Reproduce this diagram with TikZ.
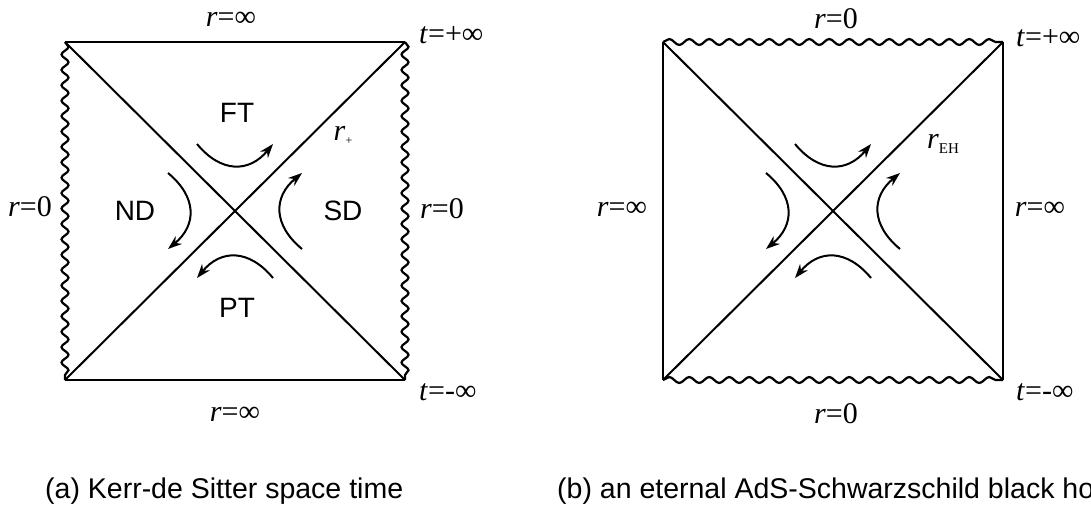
\documentclass[tikz,border=0pt]{standalone}
\usepackage{fontspec}
\setmainfont{Liberation Sans}
\newfontfamily\tms{Liberation Serif}
\usetikzlibrary{decorations.pathmorphing,arrows.meta}
\tikzset{
  edge/.style={line width=2.5pt},
  diag/.style={line width=2pt},
  wavyA/.style={line width=2.2pt, decorate, decoration={snake, segment length=15.4pt, amplitude=3.5pt}},
  wavyB/.style={line width=2.2pt, decorate, decoration={snake, segment length=20pt, amplitude=3pt}},
  flow/.style={line width=2pt, -{Stealth[length=14pt, width=10pt]}},
  lab/.style={font=\tms\fontsize{30}{32}\selectfont, inner sep=0pt},
  reg/.style={font=\fontsize{28}{30}\selectfont, inner sep=0pt},
  captext/.style={font=\fontsize{28.5}{32}\selectfont, inner sep=0pt},
}
\newcommand{\flows}{%
  \draw[flow] (-38,-67) .. controls (-14,-38) and (14,-38) .. (38,-67);
  \draw[flow] (67,38) .. controls (38,14) and (38,-14) .. (67,-38);
  \draw[flow] (38,67) .. controls (14,38) and (-14,38) .. (-38,67);
  \draw[flow] (-67,-38) .. controls (-38,-14) and (-38,14) .. (-67,38);
}
\begin{document}
\begin{tikzpicture}[x=1pt,y=-1pt]
\useasboundingbox (0,0) rectangle (1091,508);
% ---------- (a) ----------
\coordinate (aTL) at (65,42);
\coordinate (aTR) at (405,42);
\coordinate (aBL) at (65,380);
\coordinate (aBR) at (405,380);
\draw[edge] (aTL) -- (aTR);
\draw[edge] (aBL) -- (aBR);
\draw[wavyA] (aTL) -- (aBL);
\draw[wavyA] (aTR) -- (aBR);
\draw[diag] (aTL) -- (aBR);
\draw[diag] (aTR) -- (aBL);
\begin{scope}[shift={(235,211)}]
\flows
\end{scope}
\node[lab] (aTop) at (231,19) {\textit{r}=∞};
\node[lab] (aBot) at (235,414) {\textit{r}=∞};
\node[lab] (aLeft) at (30,207) {\textit{r}=0};
\node[lab] (aRight) at (442,209) {\textit{r}=0};
\node[lab, anchor=west] (aTp) at (419,35) {\textit{t}=+∞};
\node[lab, anchor=west] (aTm) at (419,392) {\textit{t}=-∞};
\node[lab] (aRp) at (343,135) {\textit{r}\raisebox{-0.3ex}{\fontsize{12}{12}\selectfont+}};
\node[reg] (FT) at (237,113) {FT};
\node[reg] (ND) at (135,211) {ND};
\node[reg] (SD) at (343,211) {SD};
\node[reg] (PT) at (237,308) {PT};
\node[captext, anchor=base west] (capA) at (45,498) {(a) Kerr-de Sitter space time};
% ---------- (b) ----------
\coordinate (bTL) at (663,42);
\coordinate (bTR) at (1003,42);
\coordinate (bBL) at (663,380);
\coordinate (bBR) at (1003,380);
\draw[wavyB] (bTL) -- (bTR);
\draw[wavyB] (bBL) -- (bBR);
\draw[edge] (bTL) -- (bBL);
\draw[edge] (bTR) -- (bBR);
\draw[diag] (bTL) -- (bBR);
\draw[diag] (bTR) -- (bBL);
\begin{scope}[shift={(833,211)}]
\flows
\end{scope}
\node[lab] (bTop) at (836,19) {\textit{r}=0};
\node[lab] (bBot) at (836,414) {\textit{r}=0};
\node[lab] (bLeft) at (622,209) {\textit{r}=∞};
\node[lab] (bRight) at (1040,209) {\textit{r}=∞};
\node[lab, anchor=west] (bTp) at (1016,38) {\textit{t}=+∞};
\node[lab, anchor=west] (bTm) at (1016,392) {\textit{t}=-∞};
\node[lab] (bReh) at (943,144) {\textit{r}\raisebox{-0.4ex}{\fontsize{15}{15}\selectfont EH}};
\node[captext, anchor=base west] (capB) at (557,498) {(b) an eternal AdS-Schwarzschild black hole};
\end{tikzpicture}
\end{document}
